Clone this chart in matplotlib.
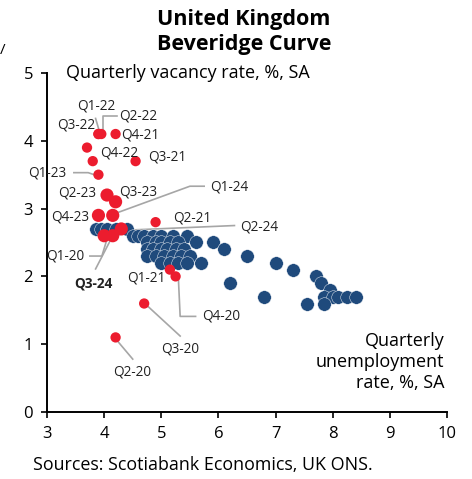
import matplotlib.pyplot as plt

plt.rcParams['font.family'] = ['Open Sans', 'DejaVu Sans']

# pre-pandemic history (unemployment %, vacancy %)
hist_u = [3.85, 3.95, 4.05, 4.2, 4.4,
          4.5, 4.6, 4.7, 4.85, 5.0, 5.2, 5.45,
          4.75, 4.9, 5.0, 5.15, 5.3, 5.6, 5.9,
          4.75, 4.85, 5.0, 5.1, 5.25, 5.4, 6.1,
          4.75, 4.9, 5.05, 5.2, 5.35, 5.5, 6.5,
          5.0, 5.15, 5.3, 5.45, 5.7, 7.0,
          7.3, 7.7, 6.2, 7.8, 7.95,
          6.8, 7.85, 8.0, 8.1, 8.25, 8.4,
          7.55, 7.85]
hist_v = [2.7, 2.7, 2.7, 2.7, 2.7,
          2.6, 2.6, 2.6, 2.6, 2.6, 2.6, 2.6,
          2.5, 2.5, 2.5, 2.5, 2.5, 2.5, 2.5,
          2.4, 2.4, 2.4, 2.4, 2.4, 2.4, 2.4,
          2.3, 2.3, 2.3, 2.3, 2.3, 2.3, 2.3,
          2.2, 2.2, 2.2, 2.2, 2.2, 2.2,
          2.1, 2.0, 1.9, 1.9, 1.8,
          1.7, 1.7, 1.7, 1.7, 1.7, 1.7,
          1.6, 1.6]

# since 2020
quarters = ["Q1-20", "Q2-20", "Q3-20", "Q4-20", "Q1-21", "Q2-21", "Q3-21", "Q4-21",
            "Q1-22", "Q2-22", "Q3-22", "Q4-22", "Q1-23", "Q2-23", "Q3-23", "Q4-23",
            "Q1-24", "Q2-24", "Q3-24"]
recent_u = [4.0, 4.2, 4.7, 5.25, 5.15, 4.9, 4.55, 4.2,
            3.9, 3.95, 3.9, 3.8, 3.9, 4.05, 4.2, 3.9,
            4.15, 4.3, 4.15]
recent_v = [2.6, 1.1, 1.6, 2.0, 2.1, 2.8, 3.7, 4.1,
            4.1, 4.1, 4.1, 3.7, 3.5, 3.2, 3.1, 2.9,
            2.9, 2.7, 2.6]
extra_u = [3.7]
extra_v = [3.9]

navy = "#1f4a7c"
red = "#ec1c2e"
grey = "#a6a6a6"

fig = plt.figure(figsize=(4.72, 4.79), dpi=100)
ax = fig.add_axes([0.0996, 0.1399, 0.8475, 0.7077])

ax.scatter(hist_u, hist_v, s=95, color=navy, edgecolors="white", linewidths=0.3, zorder=2)
big = ["Q1-20", "Q2-23", "Q3-23", "Q4-23", "Q1-24", "Q2-24", "Q3-24"]
sizes = [90 if q in big else 55 for q in quarters]
ax.scatter(recent_u, recent_v, s=sizes, color=red, edgecolors="none", zorder=3)
ax.scatter(extra_u, extra_v, s=55, color=red, edgecolors="none", zorder=3)

# label text position, alignment and leader line path
labels = {
    "Q1-22": ((3.86, 4.51), "center", [(3.85, 4.33), (3.92, 4.13)]),
    "Q2-22": ((4.27, 4.36), "left", [(4.22, 4.36), (3.98, 4.36), (3.98, 4.15)]),
    "Q3-22": ((3.84, 4.23), "right", None),
    "Q4-21": ((4.3, 4.09), "left", None),
    "Q4-22": ((3.93, 3.82), "left", None),
    "Q3-21": ((4.77, 3.76), "left", None),
    "Q1-23": ((3.34, 3.52), "right", [(3.47, 3.53), (3.72, 3.53), (3.86, 3.49)]),
    "Q2-23": ((3.86, 3.23), "right", None),
    "Q3-23": ((4.27, 3.24), "left", None),
    "Q4-23": ((3.74, 2.88), "right", None),
    "Q1-24": ((5.85, 3.32), "left", [(5.75, 3.33), (5.5, 3.33), (4.2, 2.93)]),
    "Q2-21": ((5.2, 2.86), "left", None),
    "Q2-24": ((6.38, 2.73), "left", [(6.28, 2.75), (4.35, 2.68)]),
    "Q1-20": ((3.65, 2.3), "right", [(3.75, 2.3), (3.96, 2.3), (4.05, 2.55)]),
    "Q3-24": ((3.82, 1.9), "center", [(3.85, 2.11), (4.12, 2.55)]),
    "Q1-21": ((5.08, 1.98), "right", None),
    "Q4-20": ((5.72, 1.41), "left", [(5.6, 1.41), (5.33, 1.41), (5.3, 1.95)]),
    "Q3-20": ((5.33, 0.93), "center", [(4.75, 1.57), (5.33, 1.12)]),
    "Q2-20": ((4.49, 0.59), "center", [(4.22, 1.06), (4.5, 0.78)]),
}
for q, (pos, ha, path) in labels.items():
    ax.text(pos[0], pos[1], q, ha=ha, va="center", fontsize=9.8, color="#222222",
            fontweight="bold" if q == "Q3-24" else "normal", zorder=4)
    if path:
        ax.plot([p[0] for p in path], [p[1] for p in path], color=grey, lw=1.2, zorder=1)

ax.set_xlim(3, 10)
ax.set_ylim(0, 5)
ax.set_xticks(range(3, 11))
ax.set_yticks(range(0, 6))
ax.tick_params(labelsize=12, length=4, width=1.2, direction="out", pad=6)
for side in ["top", "right"]:
    ax.spines[side].set_visible(False)
for side in ["left", "bottom"]:
    ax.spines[side].set_linewidth(1.4)

ax.text(3.33, 5.0, "Quarterly vacancy rate, %, SA", fontsize=13, va="center", ha="left")
ax.text(9.95, 0.74, "Quarterly\nunemployment\nrate, %, SA", fontsize=13, ha="right",
        va="center", linespacing=1.2)

fig.text(0.517, 0.934, "United Kingdom\nBeveridge Curve", ha="center", va="center",
         fontsize=15.5, fontweight="bold", linespacing=1.25)
fig.text(0.07, 0.03, "Sources: Scotiabank Economics, UK ONS.", fontsize=12.9, va="center")
fig.text(0.0, 0.895, "/", fontsize=11, va="center")

fig.savefig("out.png", dpi=100)
